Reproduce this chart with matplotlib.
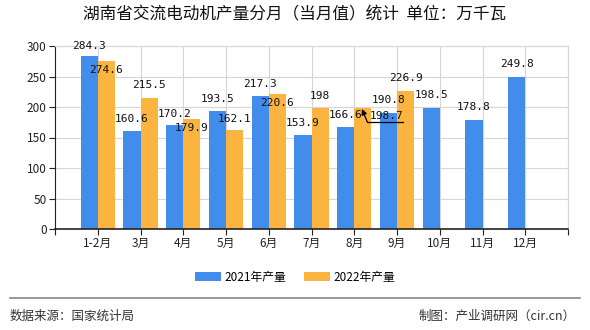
import matplotlib
matplotlib.use("Agg")
import matplotlib.pyplot as plt
import numpy as np

plt.rcParams['font.family'] = ['Noto Sans CJK SC', 'DejaVu Sans']

categories = ['1-2月', '3月', '4月', '5月', '6月', '7月', '8月', '9月', '10月', '11月', '12月']
values_2021 = [284.3, 160.6, 170.2, 193.5, 217.3, 153.9, 166.6, 190.8, 198.5, 178.8, 249.8]
values_2022 = [274.6, 215.5, 179.9, 162.1, 220.6, 198, 198.7, 226.9, None, None, None]
yticks = [0, 50, 100, 150, 200, 250, 300]

# label offsets (data units) relative to bar top
off_2021 = [16, 19, 19, 19, 20, 20, 20, 20, 21, 21, 21]
off_2022 = [-14, 20, -15, 19, -14.6, 20, -14, 20, 0, 0, 0]
dx_2022 = [0, 0, 0, 0, 0, 0, 0.56, 0, 0, 0, 0]

c_blue = '#428CEC'
c_orange = '#FBB440'

fig = plt.figure(figsize=(5.9, 3.3), dpi=100)
ax = fig.add_axes([55/590, 1-229/330, (568-55)/590, (229-46)/330])

x = np.arange(1, len(categories) + 1)
w = 0.4
b1 = ax.bar(x - w/2, values_2021, width=w, color=c_blue, label='2021年产量', zorder=2)
x2 = [xi for xi, v in zip(x, values_2022) if v is not None]
v2 = [v for v in values_2022 if v is not None]
b2 = ax.bar(np.array(x2) + w/2, v2, width=w, color=c_orange, label='2022年产量', zorder=2)

lblfont = dict(fontsize=8, family=['DejaVu Sans Mono'], color='#111111', ha='center', va='center', zorder=4)
for xi, v, o in zip(x, values_2021, off_2021):
    ax.text(xi - w/2, v + o, f'{v:g}', **lblfont)
for xi, v, o, d in zip(x2, v2, off_2022, dx_2022):
    t = ax.text(xi + w/2 + d, v + o, f'{v:g}', **lblfont)
    if d != 0:
        # leader line for the displaced label
        lx = xi + w/2 + d
        ly = v + o - 10
        ax.plot([lx - 0.45, lx + 0.38], [ly, ly], color='black', lw=0.9, zorder=5)
        ax.annotate('', xy=(xi + w/2 - 0.02, v - 2), xytext=(lx - 0.45, ly),
                    arrowprops=dict(arrowstyle='-|>', color='black', lw=0.9,
                                    mutation_scale=8, shrinkA=0, shrinkB=0), zorder=5)

ax.set_xlim(0, 12)
ax.set_ylim(0, 300)
ax.set_yticks(yticks)
ax.set_xticks(range(0, 13))
ax.set_xticklabels([''] + categories + [''])
ax.set_yticklabels([str(t) for t in yticks])
ax.tick_params(axis='both', labelsize=8.5, colors='#222222', length=4, width=0.8, pad=2)
ax.tick_params(axis='x', direction='out')
ax.grid(True, color='#d6d6d6', linewidth=0.8, zorder=0)
ax.set_axisbelow(True)
for s in ['top', 'right']:
    ax.spines[s].set_color('#d6d6d6')
    ax.spines[s].set_linewidth(0.8)
ax.spines['left'].set_color('#222222')
ax.spines['bottom'].set_color('#222222')
ax.spines['bottom'].set_linewidth(1.2)

fig.text(0.5, 1-15/330, '湖南省交流电动机产量分月（当月值）统计  单位：万千瓦',
         ha='center', va='center', fontsize=12, color='#111111')

leg = fig.legend(handles=[b1, b2], loc='center', bbox_to_anchor=(295/590, 1-277/330),
                 ncol=2, frameon=False, fontsize=8.5, handlelength=2.2, handleheight=0.9,
                 columnspacing=1.5, handletextpad=0.3)

fig.add_artist(plt.Line2D([10/590, 580/590], [1-298/330, 1-298/330], color='#888888', linewidth=1.2))
fig.text(10/590, 1-316/330, '数据来源：国家统计局', ha='left', va='center', fontsize=9, color='#333333')
fig.text(576/590, 1-316/330, '制图：产业调研网（cir.cn）', ha='right', va='center', fontsize=9, color='#333333')

fig.savefig('out.png', dpi=100)
